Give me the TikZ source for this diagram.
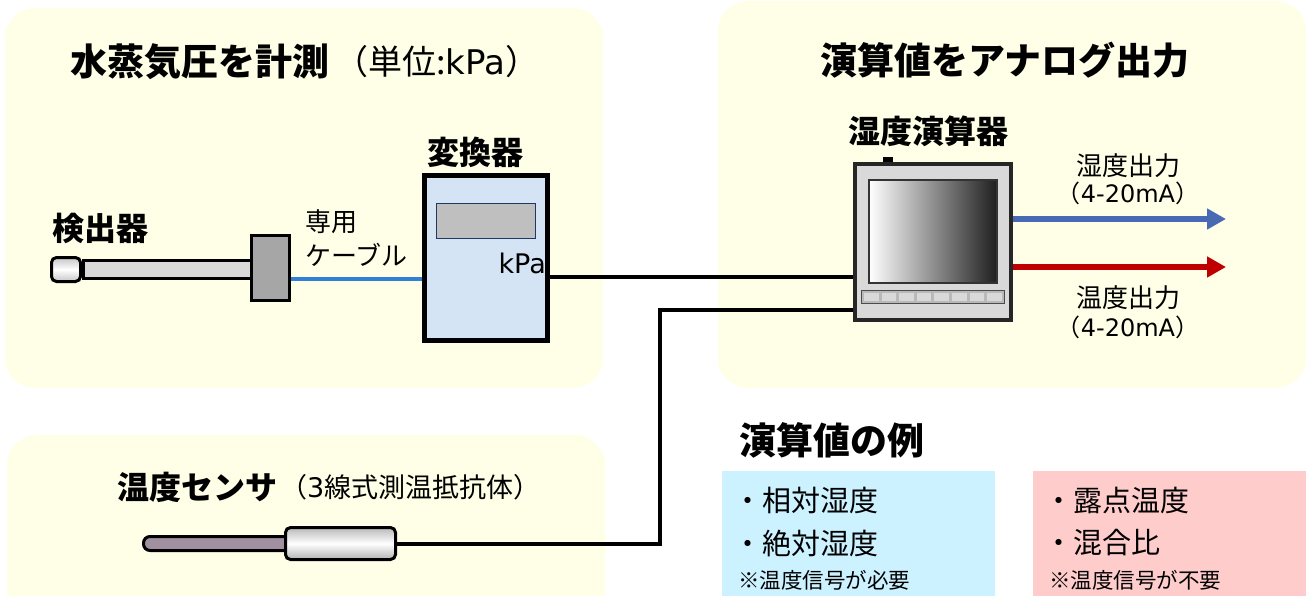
\documentclass[tikz,border=0pt]{standalone}
\usepackage{fontspec}
\setmainfont{Noto Sans CJK JP}
\newfontfamily\lat{DejaVu Sans}
\usetikzlibrary{arrows.meta,calc}

\definecolor{panelY}{RGB}{255,255,231}
\definecolor{needC}{RGB}{204,242,255}
\definecolor{freeC}{RGB}{255,204,204}
\definecolor{cableBlue}{RGB}{47,128,214}
\definecolor{outBlue}{RGB}{72,106,180}
\definecolor{outRed}{RGB}{192,0,0}
\definecolor{convFill}{RGB}{213,228,245}
\definecolor{navy}{RGB}{31,56,100}
\definecolor{probeC}{RGB}{160,144,160}
\definecolor{caseC}{RGB}{217,217,217}
\definecolor{caseEdge}{RGB}{38,38,38}

\begin{document}
\begin{tikzpicture}[x=1pt,y=-1pt,
  panel/.style={fill=panelY, rounded corners=30pt},
  ttl/.style={font=\fontsize{37}{42}\selectfont\bfseries, inner sep=0},
  lbl/.style={font=\fontsize{32}{38}\selectfont\bfseries, inner sep=0},
  txt/.style={font=\fontsize{26}{30}\selectfont, inner sep=0},
  txtS/.style={font=\fontsize{24}{28}\selectfont, inner sep=0},
  item/.style={font=\fontsize{29}{34}\selectfont, inner sep=0, anchor=west},
  note/.style={font=\fontsize{21.5}{26}\selectfont, inner sep=0, anchor=west},
  part/.style={draw=black, line width=3pt, inner sep=0},
  wire/.style={line width=4.5pt, black},
  outarrow/.style={line width=6pt, -{Triangle[length=19pt,width=20pt]}},
]
\useasboundingbox (0,0) rectangle (1306,595);

% background panels
\begin{scope}
  \clip (0,0) rectangle (1306,595);
  \fill[panel] (5,8) rectangle (603,388);
  \fill[panel] (718,1) rectangle (1306,388);
  \fill[panel] (7,435) rectangle (605,640);
  \fill[needC] (722,471) rectangle (995,600);
  \fill[freeC] (1033,471) rectangle (1306,600);
\end{scope}

% panel titles
\node[ttl, anchor=west] (t1) at (70,62) {水蒸気圧を計測};
\node[anchor=west, inner sep=0, font=\fontsize{34}{38}\selectfont] (t1u) at (334,62) {（単位:{\lat kPa}）};
\node[ttl] (t2) at (1005,60) {演算値をアナログ出力};
\node[ttl, anchor=west] (t3) at (739,440) {演算値の例};
\node[lbl, anchor=west] (t4) at (117,487) {温度センサ};
\node[anchor=west, inner sep=0, font=\fontsize{27}{31}\selectfont] (t4u) at (280,487) {（{\lat 3}線式測温抵抗体）};

% detector
\node[part, fill=caseC, minimum width=168pt, minimum height=18pt] (rod) at (167.5,269.5) {};
\node[part, rounded corners=5pt, minimum width=29pt, minimum height=24pt,
      top color=gray!45, bottom color=gray!45, middle color=white] (tip) at (66,269.5) {};
\node[part, fill=gray!70, minimum width=38pt, minimum height=65pt] (head) at (270.5,268) {};
\node[lbl] (detlbl) at (100,228) {検出器};

% dedicated cable
\draw[cableBlue, line width=4pt] ([yshift=-11pt]head.east) -- ([yshift=-11pt]head.east -| 424,0) coordinate (cabEnd);
\node[txt, anchor=west] (cab1) at (305,222) {専用};
\node[txt, anchor=west] (cab2) at (305,255) {ケーブル};

% converter
\node[draw=black, line width=5pt, fill=convFill, minimum width=123pt, minimum height=165pt, inner sep=0] (conv) at (486,258) {};
\draw[navy, line width=1.5pt, fill=gray!50] (436.5,203.5) rectangle (535.5,238.5);
\node[inner sep=0, anchor=east, font=\fontsize{27}{30}\lat] (kpa) at (546,263) {kPa};
\node[lbl] (convlbl) at (475,152) {変換器};

% humidity calculator
\fill[black] (883,157) rectangle (893,163);
\node[draw=caseEdge, line width=4pt, fill=caseC, minimum width=156pt, minimum height=156pt, inner sep=0] (calc) at (933,242) {};
\shade[left color=white, right color=black!88] (869,180) rectangle (997,283);
\draw[black!80, line width=2.5pt] (869,180) rectangle (997,283);
\draw[gray!60!black, line width=1pt, fill=gray!55] (861,290) rectangle (1004,303);
\foreach \i in {0,...,7} {
  \fill[gray!30] ({864+\i*17.6},292.5) rectangle ({878.5+\i*17.6},300.5);
}
\node[lbl] (calclbl) at (928,131) {湿度演算器};

% pressure signal line
\draw[wire] ([yshift=-19pt]conv.east) -- ([yshift=-19pt]conv.east -| calc.west);

% temperature sensor
\draw[part, fill=probeC, rounded corners=6.5pt] (143.5,536.5) rectangle (292,550.5);
\node[part, rounded corners=5pt, minimum width=110pt, minimum height=32pt,
      top color=gray!55, bottom color=gray!60, middle color=white] (sbody) at (340.5,543.5) {};
\coordinate (bend) at (660,310);
\draw[wire, line width=4pt] (sbody.east) -| (bend) -- (bend -| calc.west);

% analog outputs
\coordinate (outA) at (1226,219);
\coordinate (outB) at (1226,267);
\draw[outarrow, outBlue] (calc.east |- outA) -- (outA);
\draw[outarrow, outRed] (calc.east |- outB) -- (outB);
\node[txt] (o1) at (1128,166) {湿度出力};
\node[txtS] (o1r) at (1128,193) {（{\lat 4-20mA}）};
\node[txt] (o2) at (1128,298) {温度出力};
\node[txtS] (o2r) at (1128,327) {（{\lat 4-20mA}）};

% example values
\node[item] (e1) at (733,500) {・相対湿度};
\node[item] (e2) at (733,543) {・絶対湿度};
\node[note] (e3) at (738,580) {※温度信号が必要};
\node[item] (e4) at (1044,500) {・露点温度};
\node[item] (e5) at (1044,543) {・混合比};
\node[note] (e6) at (1049,580) {※温度信号が不要};
\end{tikzpicture}
\end{document}
